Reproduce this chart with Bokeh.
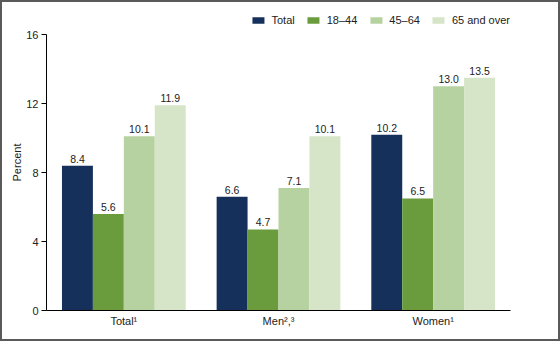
from bokeh.plotting import figure
from bokeh.models import ColumnDataSource, FactorRange, Range1d, Legend, LegendItem, FixedTicker
from bokeh.transform import dodge
from bokeh.core.properties import value
from bokeh.embed import file_html
from bokeh.resources import INLINE

categories = ["Total\u00b9", "Men\u00b2,\u00b3", "Women\u00b9"]
series = ["Total", "18\u201344", "45\u201364", "65 and over"]
total = [8.4, 6.6, 10.2]
age_18_44 = [5.6, 4.7, 6.5]
age_45_64 = [10.1, 7.1, 13.0]
age_65_over = [11.9, 10.1, 13.5]
y_ticks = [0, 4, 8, 12, 16]

colors = ["#15305a", "#6a9c3e", "#b7d2a1", "#d6e5c8"]
FONT = "Liberation Sans"

src = ColumnDataSource(dict(
    cat=categories,
    s0=total, s1=age_18_44, s2=age_45_64, s3=age_65_over,
    l0=[f"{v:.1f}" for v in total],
    l1=[f"{v:.1f}" for v in age_18_44],
    l2=[f"{v:.1f}" for v in age_45_64],
    l3=[f"{v:.1f}" for v in age_65_over],
))

B = 2  # css border width
px_per_unit = (310 - 36) / 16.0
frame_top = 16
y_end = (310 - frame_top) / px_per_unit

p = figure(width=560 - 2 * B, height=341 - 2 * B, output_backend="svg", toolbar_location=None,
           x_range=FactorRange(factors=categories, range_padding=0),
           y_range=Range1d(0, y_end),
           min_border_left=44, min_border_right=52, min_border_top=12,
           min_border_bottom=33)
p.styles = {"border": f"{B}px solid #5a5a5a", "box-sizing": "content-box"}
p.outline_line_color = None
p.xgrid.visible = False
p.ygrid.visible = False

offsets = [-0.3, -0.1, 0.1, 0.3]
renderers = []
for i in range(4):
    r = p.vbar(x=dodge("cat", offsets[i], range=p.x_range), top=f"s{i}", width=0.2,
               source=src, fill_color=colors[i], line_color=None)
    renderers.append(r)
    p.text(x=dodge("cat", offsets[i], range=p.x_range), y=f"s{i}", text=f"l{i}", source=src,
           text_align="center", text_baseline="bottom", y_offset=-3,
           text_font=value(FONT), text_font_size="10.5px", text_color="#222222")

legend = Legend(items=[LegendItem(label=series[i], renderers=[renderers[i]]) for i in range(4)],
                orientation="horizontal", location="top_right", margin=0, padding=0,
                spacing=11, glyph_width=15, glyph_height=8, label_standoff=6,
                border_line_color=None, background_fill_alpha=0,
                label_text_font=FONT, label_text_font_size="11px", label_text_color="#222222")
p.add_layout(legend)

p.yaxis.ticker = FixedTicker(ticks=y_ticks)
p.yaxis.bounds = (0, 16)
p.yaxis.minor_tick_line_color = None
p.yaxis.major_tick_in = 0
p.yaxis.major_tick_out = 5
p.yaxis.major_label_standoff = 3
p.yaxis.axis_label = "Percent"
p.yaxis.axis_label_standoff = 0
p.yaxis.axis_label_text_font = FONT
p.yaxis.axis_label_text_font_style = "normal"
p.yaxis.axis_label_text_font_size = "11px"
p.yaxis.major_label_text_font = FONT
p.yaxis.major_label_text_font_size = "11px"
p.yaxis.major_tick_line_color = "#000000"

p.xaxis.major_tick_line_color = None
p.xaxis.major_tick_in = 0
p.xaxis.major_tick_out = 0
p.xaxis.major_label_standoff = 4
p.xaxis.major_label_text_font = FONT
p.xaxis.major_label_text_font_size = "11px"

for ax in (p.xaxis, p.yaxis):
    ax.axis_line_color = "#000000"
    ax.major_label_text_color = "#222222"
    ax.axis_label_text_color = "#222222"

open("out.html", "w").write(file_html(p, INLINE))
